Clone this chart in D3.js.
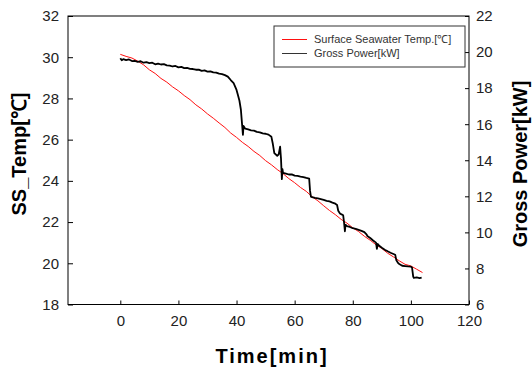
<!DOCTYPE html>
<html>
<head>
<meta charset="utf-8">
<script src="https://cdn.jsdelivr.net/npm/d3@7"></script>
<style>
  body { margin: 0; background: #fff; }
  svg { font-family: "Liberation Sans", Arial, sans-serif; }
</style>
</head>
<body>
<div id="chart"></div>
<script>
// sea surface temperature [°C] against time [min]
const tempTime = [0, 2, 4, 6, 8, 10, 12, 14, 16, 18, 20, 22, 24, 26, 28, 30, 32, 34, 36, 38, 40,
  42, 44, 46, 48, 50, 52, 54, 56, 58, 60, 62, 64, 66, 68, 70, 72, 74, 76, 78, 80,
  82, 84, 86, 88, 90, 92, 94, 96, 98, 100, 102, 104]
const tempValue = [30.14, 30.04, 29.96, 29.81, 29.63, 29.39, 29.21, 28.97, 28.79, 28.56, 28.37, 28.14, 27.94, 27.69, 27.49, 27.25, 27.04, 26.81, 26.59, 26.32, 26.11,
  25.87, 25.67, 25.43, 25.23, 24.98, 24.78, 24.55, 24.35, 24.11, 23.91, 23.68, 23.49, 23.23, 23.03, 22.79, 22.56, 22.36, 22.13, 21.95, 21.72,
  21.54, 21.31, 21.12, 20.90, 20.72, 20.49, 20.31, 20.12, 19.95, 19.87, 19.71, 19.55]

// gross power [kW] against time [min]
const powerTime = [0, 0.5, 1, 2, 3, 4, 5, 6, 7, 8, 9, 10, 11, 12, 13, 14, 15, 16, 17, 18, 19, 20,
  21, 22, 23, 24, 25, 26, 27, 28, 29, 30, 31, 32, 33, 34, 35, 36, 37, 38, 39, 40, 40.5, 41, 41.5, 41.8, 42, 42.2, 42.4,
  43, 44, 45, 46, 47, 48, 49, 50, 51, 52, 52.5, 53, 54, 54.5, 55, 55.3, 55.6, 55.8, 56, 57, 58, 59, 60,
  61, 62, 63, 64, 65, 65.3, 65.6, 66, 67, 68, 69, 70, 71, 72, 73, 74, 74.6, 75, 75.6, 76, 76.7, 77, 77.3, 77.5,
  78, 79, 80, 81, 82, 83, 84, 84.8, 85, 86, 87, 88, 88.3, 88.6, 89, 90, 91, 92, 93, 94, 94.6, 95, 95.6,
  96, 97, 98, 99, 100, 100.4, 100.8, 101, 102, 103, 103.7]
const powerValue = [19.66, 19.54, 19.61, 19.55, 19.59, 19.50, 19.51, 19.46, 19.49, 19.41, 19.44, 19.39, 19.41, 19.32, 19.36, 19.31, 19.33, 19.26, 19.25, 19.20, 19.23, 19.15,
  19.18, 19.11, 19.12, 19.07, 19.06, 19.02, 19.03, 18.96, 18.98, 18.92, 18.93, 18.87, 18.86, 18.80, 18.78, 18.72, 18.64, 18.45, 18.28, 17.90, 17.60, 17.30, 16.80, 16.20, 15.80, 15.41, 15.90,
  15.75, 15.71, 15.66, 15.64, 15.57, 15.55, 15.49, 15.47, 15.42, 15.30, 14.90, 14.40, 14.25, 14.33, 14.75, 14.10, 12.95, 13.50, 13.30, 13.26, 13.21, 13.22, 13.15,
  13.13, 13.09, 13.07, 13.02, 12.98, 12.30, 11.98, 11.95, 11.91, 11.88, 11.84, 11.80, 11.75, 11.72, 11.65, 11.59, 11.52, 11.20, 11.05, 11.01, 10.95, 10.55, 10.06, 10.42,
  10.35, 10.30, 10.23, 10.20, 10.14, 10.08, 10.01, 9.88, 9.80, 9.69, 9.55, 9.43, 9.08, 9.36, 9.27, 9.15, 9.04, 8.95, 8.87, 8.80, 8.76, 8.45, 8.30,
  8.25, 8.15, 8.13, 8.11, 8.10, 8.04, 7.55, 7.48, 7.50, 7.46, 7.49]

const timeTicks = [0, 20, 40, 60, 80, 100, 120]
const tempTicks = [18, 20, 22, 24, 26, 28, 30, 32]
const powerTicks = [6, 8, 10, 12, 14, 16, 18, 20, 22]

const legendLabels = ['Surface Seawater Temp.[\u2103]', 'Gross Power[kW]']

const W = 532, H = 369
const plot = { left: 68, right: 469, top: 16, bottom: 304.5 }

const svg = d3.select('#chart').append('svg').attr('width', W).attr('height', H)

const x = d3.scaleLinear().domain([-18, 120]).range([plot.left, plot.right])
const yTemp = d3.scaleLinear().domain([18, 32]).range([plot.bottom, plot.top])
const yPower = d3.scaleLinear().domain([6, 22]).range([plot.bottom, plot.top])

const tickColor = '#222'

function styleAxis(g) {
	g.select('.domain').remove()
	g.selectAll('.tick line').attr('stroke', '#000')
	g.selectAll('.tick text').attr('fill', tickColor).style('font-size', '15px')
}

// axes (ticks point inward)
svg.append('g')
	.attr('transform', 'translate(0,' + plot.bottom + ')')
	.call(d3.axisBottom(x).tickValues(timeTicks).tickSizeInner(-4).tickSizeOuter(0).tickPadding(11))
	.call(styleAxis)

svg.append('g')
	.attr('transform', 'translate(' + plot.left + ',0)')
	.call(d3.axisLeft(yTemp).tickValues(tempTicks).tickSizeInner(-5).tickSizeOuter(0).tickPadding(9))
	.call(styleAxis)

svg.append('g')
	.attr('transform', 'translate(' + plot.right + ',0)')
	.call(d3.axisRight(yPower).tickValues(powerTicks).tickSizeInner(-4).tickSizeOuter(0).tickPadding(7))
	.call(styleAxis)

// lines
const tempData = tempTime.map((t, i) => ({ t: t, v: tempValue[i] }))
const powerData = powerTime.map((t, i) => ({ t: t, v: powerValue[i] }))

svg.append('path')
	.datum(tempData)
	.attr('fill', 'none')
	.attr('stroke', '#ff1010')
	.attr('stroke-width', 1)
	.attr('d', d3.line().x((d) => x(d.t)).y((d) => yTemp(d.v)))

svg.append('path')
	.datum(powerData)
	.attr('fill', 'none')
	.attr('stroke', '#000')
	.attr('stroke-width', 1.8)
	.attr('stroke-linejoin', 'round')
	.attr('d', d3.line().x((d) => x(d.t)).y((d) => yPower(d.v)))

// frame
svg.append('rect')
	.attr('x', plot.left)
	.attr('y', plot.top)
	.attr('width', plot.right - plot.left)
	.attr('height', plot.bottom - plot.top)
	.attr('fill', 'none')
	.attr('stroke', '#000')
	.attr('stroke-width', 1)

// legend
const legend = svg.append('g').attr('transform', 'translate(274,26)')
legend.append('rect')
	.attr('width', 191)
	.attr('height', 41)
	.attr('fill', '#fff')
	.attr('stroke', '#333')
	.attr('stroke-width', 1)
const legendColors = ['#ff1010', '#333']
legendLabels.forEach((label, i) => {
	const yy = 13.5 + i * 14
	legend.append('line')
		.attr('x1', 8).attr('x2', 33)
		.attr('y1', yy).attr('y2', yy)
		.attr('stroke', legendColors[i])
		.attr('stroke-width', 1)
	legend.append('text')
		.attr('x', 40)
		.attr('y', yy)
		.attr('dy', '0.35em')
		.attr('fill', '#333')
		.style('font-size', '11px')
		.text(label)
})

// axis titles
svg.append('text')
	.attr('transform', 'translate(26,154) rotate(-90)')
	.attr('text-anchor', 'middle')
	.style('font-size', '20px')
	.style('font-weight', 'bold')
	.attr('fill', '#000')
	.text('SS_Temp[\u2103]')

svg.append('text')
	.attr('transform', 'translate(527,164) rotate(-90)')
	.attr('text-anchor', 'middle')
	.style('font-size', '20px')
	.style('font-weight', 'bold')
	.attr('fill', '#000')
	.text('Gross Power[kW]')

svg.append('text')
	.attr('x', 272)
	.attr('y', 363)
	.attr('text-anchor', 'middle')
	.style('font-size', '20px')
	.style('font-weight', 'bold')
	.style('letter-spacing', '2px')
	.attr('fill', '#000')
	.text('Time[min]')
</script>
</body>
</html>
